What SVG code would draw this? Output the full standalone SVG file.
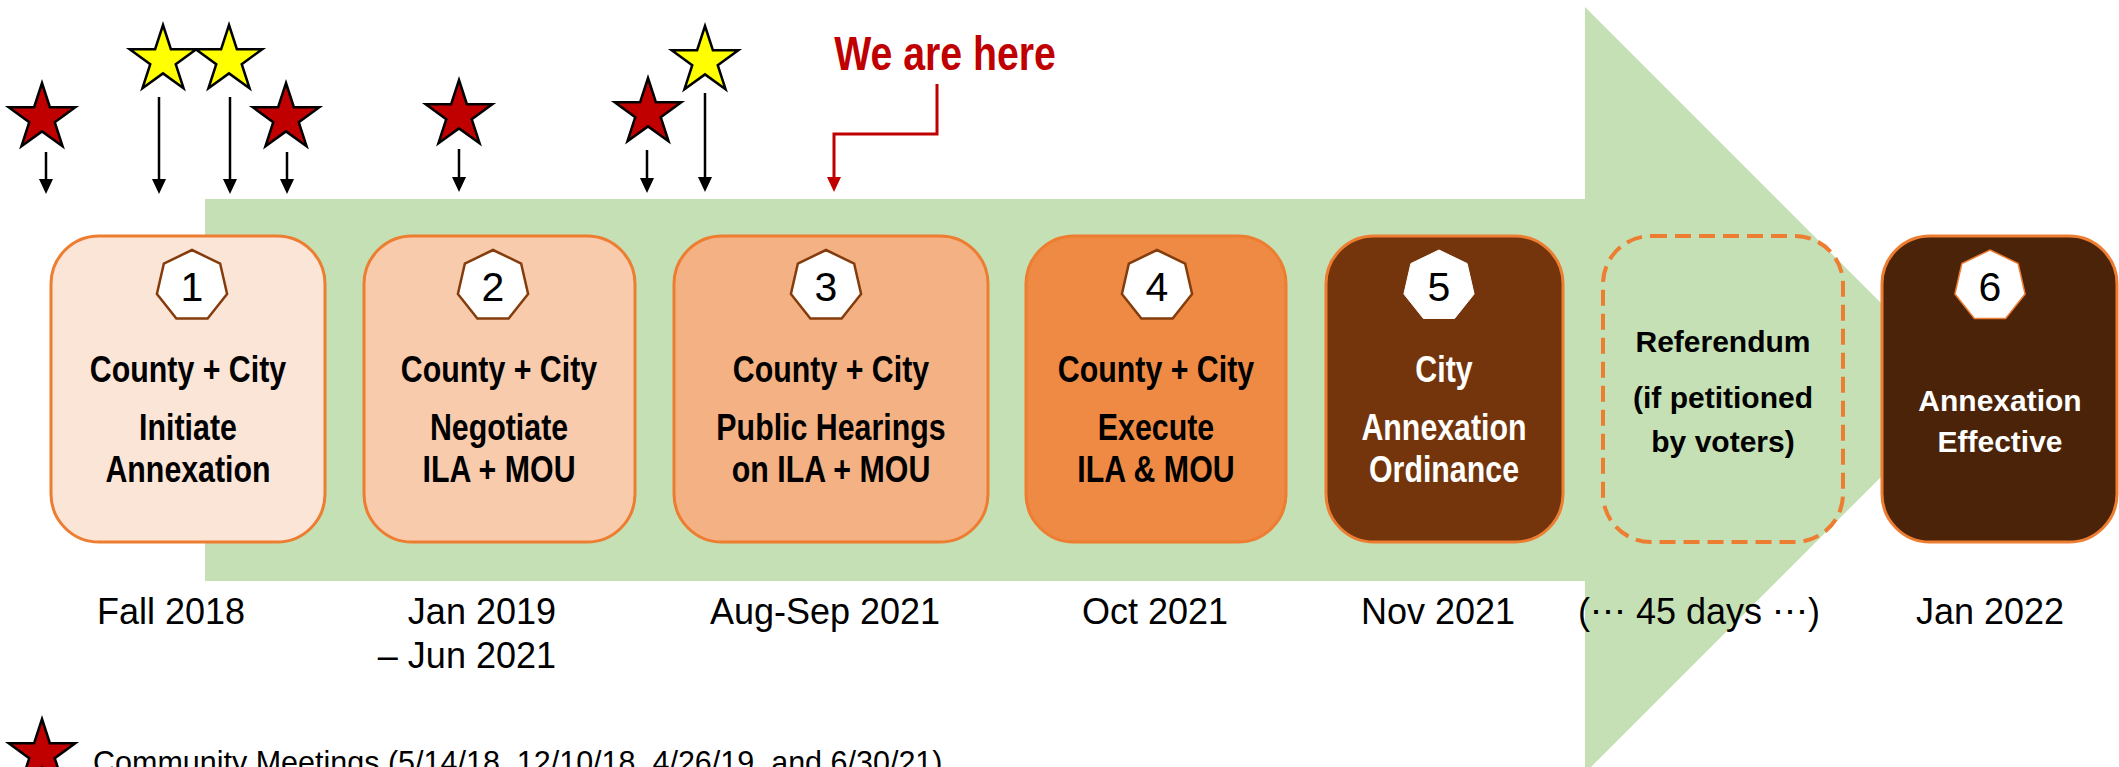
<svg xmlns="http://www.w3.org/2000/svg" width="2119" height="767" viewBox="0 0 2119 767">
<style>
.box{stroke:#ED7D31;stroke-width:3}
.hept{fill:#FFFFFF;stroke:#843C0C;stroke-width:2.5}
.num{font-family:"Liberation Sans",Arial,sans-serif;font-size:41px;text-anchor:middle;fill:#000}
.bt{font-family:"Liberation Sans",Arial,sans-serif;font-weight:bold;font-size:37px;text-anchor:middle;fill:#000}
.bw{fill:#FFFFFF}
.rt{font-family:"Liberation Sans",Arial,sans-serif;font-weight:bold;font-size:30px;text-anchor:middle}
.date{font-family:"Liberation Sans",Arial,sans-serif;font-size:36px;text-anchor:middle;fill:#000}
.conn{stroke:#000;stroke-width:2.5;fill:none;marker-end:url(#ah)}
.red{fill:#C00000;stroke:#000;stroke-width:2.5}
.yel{fill:#FFFF00;stroke:#000;stroke-width:2.5}
</style>
<defs>
<marker id="ah" viewBox="0 0 15 14" refX="7" refY="7" markerWidth="15" markerHeight="14" markerUnits="userSpaceOnUse" orient="auto">
<path d="M0,0 L15,7 L0,14 Z" fill="#000"/>
</marker>
<marker id="ahr" viewBox="0 0 15 14" refX="7" refY="7" markerWidth="15" markerHeight="14" markerUnits="userSpaceOnUse" orient="auto">
<path d="M0,0 L15,7 L0,14 Z" fill="#C00000"/>
</marker>
<polygon id="star" points="0,-35 7.88,-10.84 33.29,-10.82 12.74,4.14 20.57,28.32 0,13.4 -20.57,28.32 -12.74,4.14 -33.29,-10.82 -7.88,-10.84"/>
<polygon id="hep" points="0,-36 28.14,-22.45 35.10,8.01 15.62,32.44 -15.62,32.44 -35.10,8.01 -28.14,-22.45"/>
</defs>
<rect width="2119" height="767" fill="#FFFFFF"/>

<g id="timeline-arrow">
<path d="M205,199 H1585 V7 L1968,390 L1585,773 V581 H205 Z" fill="#C5E0B4"/>
</g>

<g id="node1">
<rect class="box" x="51" y="236" width="274" height="306" rx="48" fill="#FBE5D6"/>
<use href="#hep" class="hept" transform="translate(192,286)"/>
<text class="num" x="192" y="301">1</text>
<text class="bt" transform="translate(188,382) scale(0.82,1)">County + City</text>
<text class="bt" transform="translate(188,440) scale(0.82,1)">Initiate</text>
<text class="bt" transform="translate(188,482) scale(0.82,1)">Annexation</text>
</g>

<g id="node2">
<rect class="box" x="364" y="236" width="271" height="306" rx="48" fill="#F8CBAD"/>
<use href="#hep" class="hept" transform="translate(493,286)"/>
<text class="num" x="493" y="301">2</text>
<text class="bt" transform="translate(499,382) scale(0.82,1)">County + City</text>
<text class="bt" transform="translate(499,440) scale(0.82,1)">Negotiate</text>
<text class="bt" transform="translate(499,482) scale(0.82,1)">ILA + MOU</text>
</g>

<g id="node3">
<rect class="box" x="674" y="236" width="314" height="306" rx="48" fill="#F4B183"/>
<use href="#hep" class="hept" transform="translate(826,286)"/>
<text class="num" x="826" y="301">3</text>
<text class="bt" transform="translate(831,382) scale(0.82,1)">County + City</text>
<text class="bt" transform="translate(831,440) scale(0.82,1)">Public Hearings</text>
<text class="bt" transform="translate(831,482) scale(0.82,1)">on ILA + MOU</text>
</g>

<g id="node4">
<rect class="box" x="1026" y="236" width="260" height="306" rx="48" fill="#EE8A44"/>
<use href="#hep" class="hept" transform="translate(1157,286)"/>
<text class="num" x="1157" y="301">4</text>
<text class="bt" transform="translate(1156,382) scale(0.82,1)">County + City</text>
<text class="bt" transform="translate(1156,440) scale(0.82,1)">Execute</text>
<text class="bt" transform="translate(1156,482) scale(0.82,1)">ILA &amp; MOU</text>
</g>

<g id="node5">
<rect class="box" x="1326" y="236" width="237" height="306" rx="48" fill="#74350C"/>
<use href="#hep" fill="#FFFFFF" stroke="#FFFFFF" stroke-width="1" transform="translate(1439,286)"/>
<text class="num" x="1439" y="301">5</text>
<text class="bt bw" transform="translate(1444,382) scale(0.82,1)">City</text>
<text class="bt bw" transform="translate(1444,440) scale(0.82,1)">Annexation</text>
<text class="bt bw" transform="translate(1444,482) scale(0.82,1)">Ordinance</text>
</g>

<g id="referendum">
<rect x="1603" y="236" width="240" height="306" rx="48" fill="none" stroke="#ED7D31" stroke-width="4" stroke-dasharray="16,8"/>
<text class="rt" x="1723" y="352" fill="#000">Referendum</text>
<text class="rt" x="1723" y="408" fill="#000">(if petitioned</text>
<text class="rt" x="1723" y="452" fill="#000">by voters)</text>
</g>

<g id="node6">
<rect class="box" x="1882" y="236" width="235" height="306" rx="48" fill="#4A2309"/>
<use href="#hep" fill="#FFFFFF" stroke="#ED7D31" stroke-width="1.5" transform="translate(1990,286)"/>
<text class="num" x="1990" y="301">6</text>
<text class="rt" x="2000" y="411" fill="#FFFFFF">Annexation</text>
<text class="rt" x="2000" y="452" fill="#FFFFFF">Effective</text>
</g>

<g id="dates">
<text class="date" x="171" y="624">Fall 2018</text>
<text class="date" x="556" y="624" style="text-anchor:end">Jan 2019</text>
<text class="date" x="556" y="668" style="text-anchor:end">– Jun 2021</text>
<text class="date" x="825" y="624">Aug-Sep 2021</text>
<text class="date" x="1155" y="624">Oct 2021</text>
<text class="date" x="1438" y="624">Nov 2021</text>
<text class="date" x="1699" y="624">(⋯ 45 days ⋯)</text>
<text class="date" x="1990" y="624">Jan 2022</text>
</g>

<g id="stars">
<use href="#star" class="red" transform="translate(42,118)"/>
<use href="#star" class="yel" transform="translate(163,60)"/>
<use href="#star" class="yel" transform="translate(229,60)"/>
<use href="#star" class="red" transform="translate(286,118)"/>
<use href="#star" class="red" transform="translate(459,115)"/>
<use href="#star" class="red" transform="translate(648,113)"/>
<use href="#star" class="yel" transform="translate(705,61)"/>
</g>

<g id="connectors">
<line class="conn" x1="46" y1="152" x2="46" y2="186"/>
<line class="conn" x1="159" y1="97" x2="159" y2="186"/>
<line class="conn" x1="230" y1="97" x2="230" y2="186"/>
<line class="conn" x1="287" y1="152" x2="287" y2="186"/>
<line class="conn" x1="459" y1="149" x2="459" y2="184"/>
<line class="conn" x1="647" y1="150" x2="647" y2="185"/>
<line class="conn" x1="705" y1="93" x2="705" y2="184"/>
<path d="M937,84 V134 H834 V184" fill="none" stroke="#C00000" stroke-width="3" marker-end="url(#ahr)"/>
</g>

<g id="we-are-here">
<text transform="translate(945,70) scale(0.8,1)" font-family="Liberation Sans,Arial,sans-serif" font-weight="bold" font-size="49" text-anchor="middle" fill="#C00000">We are here</text>
</g>

<g id="legend">
<use href="#star" class="red" transform="translate(42,754)"/>
<text x="93" y="773" font-family="Liberation Sans,Arial,sans-serif" font-size="30.5" fill="#000">Community Meetings (5/14/18, 12/10/18, 4/26/19, and 6/30/21)</text>
</g>
</svg>
